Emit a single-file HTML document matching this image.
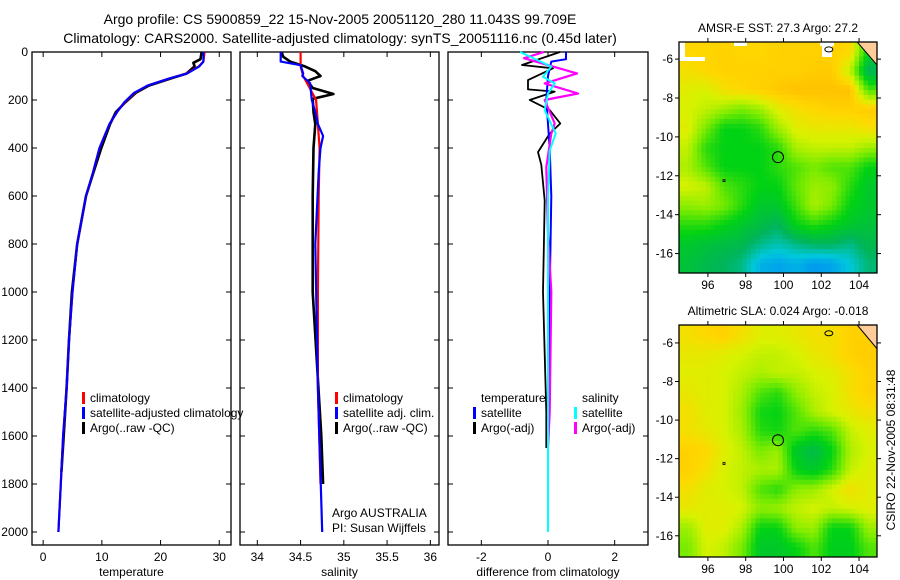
<!DOCTYPE html>
<html><head><meta charset="utf-8"><style>
html,body{margin:0;padding:0;background:#fff}
svg{display:block;font-family:"Liberation Sans",sans-serif}
</style></head><body>
<svg id="fig" width="900" height="580" viewBox="0 0 900 580">
<text x="340" y="24" font-size="14" text-anchor="middle">Argo profile: CS 5900859_22 15-Nov-2005 20051120_280 11.043S 99.709E</text>
<text x="340" y="43" font-size="14" text-anchor="middle">Climatology: CARS2000. Satellite-adjusted climatology: synTS_20051116.nc (0.45d later)</text>
<text transform="translate(895,450) rotate(-90)" font-size="12" text-anchor="middle">CSIRO 22-Nov-2005 08:31:48</text>
<g id="plots"></g>
</svg>
<script>
// ---------- data ----------
const tDepth = [0,40,60,90,110,140,170,210,250,300,400,500,600,800,1000,1200,1400,1600,1800,1950,2000];
const tClim  = [27.5,27.3,26.5,24.4,21.5,17.8,15.6,13.9,12.6,11.3,9.6,8.5,7.3,5.8,5.0,4.4,4.0,3.4,3.0,2.7,2.6];
const tSat   = [27.3,27.3,26.6,24.5,21.5,17.8,15.5,13.8,12.6,11.3,9.6,8.5,7.3,5.8,5.0,4.4,4.0,3.4,3.0,2.7,2.6];
const tArgoDepth = [0,30,45,60,90,110,140,170,210,250,300,400,500,600,800,1000,1200,1400,1600,1750];
const tArgo = [27.0,26.8,25.6,25.8,24.4,21.8,18.0,15.8,14.0,12.4,11.4,9.9,8.6,7.3,5.8,4.9,4.4,4.0,3.5,3.1];

const sDepth = [0,40,55,90,100,130,200,250,300,350,400,500,800,1400,2000];
const sSat   = [34.27,34.27,34.5,34.53,34.52,34.61,34.63,34.67,34.7,34.76,34.73,34.71,34.67,34.7,34.75];
const sClimDepth = [0,60,100,200,400,600,1000,1400,1800];
const sClim  = [34.5,34.5,34.53,34.68,34.72,34.71,34.7,34.7,34.73];
const sArgoDepth = [0,20,40,60,80,100,120,150,175,195,250,300,400,600,1000,1600,1800];
const sArgo  = [34.28,34.3,34.38,34.55,34.67,34.73,34.58,34.64,34.88,34.64,34.65,34.67,34.65,34.64,34.64,34.74,34.76];

const dTsDepth = [0,30,40,100,200,400,600,1000,1400];
const dTsat = [0.54,0.54,0.1,0.0,-0.05,0.05,0.1,0.05,0.03];
const dTaDepth = [0,54,68,117,156,165,200,242,298,340,417,470,619,1000,1500,1650];
const dTargo = [0.36,-0.78,0.15,-0.6,-0.6,0.2,-0.55,0.05,0.37,0.05,-0.3,-0.2,-0.1,-0.15,-0.05,-0.05];
const dSsDepth = [0,61,103,131,173,242,340,410,600,1000,2000];
const dSsat = [-0.84,0.1,-0.15,0.2,0.0,-0.1,0.23,0.05,0.0,0.0,0.0];
const dSaDepth = [0,26,89,131,173,200,298,340,480,760,1000,1500,1650];
const dSargo = [-0.12,-0.72,0.87,-0.1,0.9,-0.1,0.2,0.1,-0.05,0.0,0.1,0.05,0.0];

const tempTicks=[0,10,20,30], salTicks=[34,34.5,35,35.5,36], diffTicks=[-2,0,2];
const depthTicks=[0,200,400,600,800,1000,1200,1400,1600,1800,2000];
const lonTicks=[96,98,100,102,104], latTicks=[-6,-8,-10,-12,-14,-16];

const sstGrid=[
[0.88,0.88,0.9,0.88,0.88,0.9,0.9,0.9,0.9,0.88,0.5],
[0.85,0.88,0.9,0.9,0.9,0.9,0.9,0.92,0.92,0.75,0.35],
[0.8,0.78,0.85,0.88,0.9,0.93,0.95,0.95,0.95,0.95,0.6],
[0.78,0.75,0.7,0.65,0.7,0.8,0.85,0.88,0.9,0.9,0.92],
[0.8,0.65,0.5,0.5,0.55,0.7,0.8,0.82,0.82,0.82,0.85],
[0.75,0.55,0.5,0.5,0.5,0.55,0.72,0.75,0.75,0.75,0.7],
[0.72,0.6,0.5,0.5,0.5,0.55,0.6,0.65,0.6,0.6,0.5],
[0.78,0.75,0.6,0.55,0.5,0.5,0.62,0.7,0.68,0.55,0.45],
[0.68,0.7,0.65,0.55,0.45,0.45,0.58,0.72,0.65,0.5,0.45],
[0.55,0.55,0.5,0.45,0.4,0.35,0.5,0.55,0.5,0.45,0.42],
[0.45,0.42,0.4,0.38,0.3,0.25,0.3,0.35,0.35,0.3,0.38],
[0.42,0.38,0.35,0.3,0.15,0.12,0.15,0.1,0.12,0.2,0.32]];
const slaGrid=[
[0.85,0.88,0.9,0.85,0.8,0.8,0.82,0.85,0.85,0.9,0.9],
[0.82,0.82,0.8,0.78,0.75,0.75,0.78,0.82,0.85,0.9,0.92],
[0.8,0.8,0.78,0.75,0.72,0.75,0.75,0.78,0.8,0.85,0.9],
[0.82,0.8,0.78,0.72,0.6,0.55,0.68,0.75,0.78,0.85,0.9],
[0.85,0.8,0.78,0.7,0.52,0.5,0.6,0.72,0.78,0.82,0.85],
[0.85,0.82,0.78,0.72,0.55,0.52,0.6,0.55,0.6,0.75,0.8],
[0.9,0.88,0.8,0.75,0.65,0.7,0.45,0.38,0.5,0.72,0.78],
[0.9,0.85,0.78,0.75,0.72,0.72,0.5,0.45,0.55,0.75,0.8],
[0.85,0.8,0.78,0.75,0.6,0.55,0.68,0.7,0.78,0.85,0.8],
[0.82,0.8,0.8,0.78,0.68,0.7,0.75,0.78,0.75,0.78,0.8],
[0.7,0.8,0.8,0.72,0.5,0.5,0.68,0.7,0.5,0.5,0.7],
[0.65,0.78,0.75,0.65,0.45,0.45,0.5,0.6,0.48,0.48,0.6]];
const floatLon=99.709, floatLat=-11.043;

// ---------- drawing ----------
const NS="http://www.w3.org/2000/svg";
const root=document.getElementById('plots');
function el(tag,attrs,parent){const e=document.createElementNS(NS,tag);for(const k in attrs)e.setAttribute(k,attrs[k]);(parent||root).appendChild(e);return e;}
function txt(x,y,s,size,anchor,parent){const t=el('text',{x:x,y:y,'font-size':size,'text-anchor':anchor||'middle'},parent);t.textContent=s;return t;}

const TOP=52,BOT=545;
const yD=d=>TOP+d*(532-52)/2000;
function panel(name,x0,x1,xmin,xmax,xticks,xlabel,showY){
  const g=el('g',{});
  
  
  const xs=v=>x0+(v-xmin)/(xmax-xmin)*(x1-x0);
  el('rect',{x:x0,y:TOP,width:x1-x0,height:BOT-TOP,fill:'none',stroke:'#000','stroke-width':1.3},g);
  xticks.forEach(v=>{const X=xs(v);
    el('line',{x1:X,y1:BOT,x2:X,y2:BOT-5,stroke:'#000'},g);el('line',{x1:X,y1:TOP,x2:X,y2:TOP+5,stroke:'#000'},g);
    const t=txt(X,561,String(v),12,'middle',g);
    
    });
  depthTicks.forEach(d=>{const Y=yD(d);
    el('line',{x1:x0,y1:Y,x2:x0+5,y2:Y,stroke:'#000'},g);el('line',{x1:x1,y1:Y,x2:x1-5,y2:Y,stroke:'#000'},g);
    if(showY){const t=txt(x0-4,Y+4,String(d),12,'end',g);
      
      }});
  const xl=txt((x0+x1)/2,576,xlabel,12,'middle',g);
  
  
  return {g,xs};
}
function line(p,vals,depths,color,w,name,dash){
  const pts=vals.map((v,i)=>p.xs(v).toFixed(1)+','+yD(depths[i]).toFixed(1)).join(' ');
  const l=el('polyline',{points:pts,fill:'none',stroke:color,'stroke-width':w,'stroke-linejoin':'round'},p.g);
  if(dash)l.setAttribute('stroke-dasharray',dash);
  
  
}
function legend(p,x,y,items){
  items.forEach((it,i)=>{const Y=y+i*15;
    if(it[1]){const r=el('rect',{x:x,y:Y-10,width:3,height:12,fill:it[1]},p.g);
      
      }
    const t=txt(x+8,Y,it[0],12,'start',p.g);
    
    });
}
const p1=panel('temperature-panel',32,231,-1.9,32,tempTicks,'temperature',true);
line(p1,tArgo,tArgoDepth,'#000',2.6,'temperature-argo-line');
line(p1,tClim,tDepth,'#f00',2.2,'temperature-climatology-line');
line(p1,tSat,tDepth,'#00f',2.2,'temperature-satellite-line');
legend(p1,82,402,[['climatology','#f00'],['satellite-adjusted climatology','#00f'],['Argo(..raw -QC)','#000']]);
const p2=panel('salinity-panel',240,439,33.8,36.1,salTicks,'salinity',false);
line(p2,sArgo,sArgoDepth,'#000',2.6,'salinity-argo-line');
line(p2,sClim,sClimDepth,'#f00',2.2,'salinity-climatology-line');
line(p2,sSat,sDepth,'#00f',2.2,'salinity-satellite-line');
legend(p2,335,402,[['climatology','#f00'],['satellite adj. clim.','#00f'],['Argo(..raw -QC)','#000']]);
legend(p2,324,517,[['Argo AUSTRALIA',null],['PI: Susan Wijffels',null]]);
const p3=panel('difference-panel',448,648,-3,3,diffTicks,'difference from climatology',false);
line(p3,dTargo,dTaDepth,'#000',1.8,'temp-diff-argo-line');
line(p3,dTsat,dTsDepth,'#00f',2,'temp-diff-satellite-line');
line(p3,dSargo,dSaDepth,'#f0f',2.2,'sal-diff-argo-line');
line(p3,dSsat,dSsDepth,'#0ff',2,'sal-diff-satellite-line');
legend(p3,473,402,[['temperature',null],['satellite','#00f'],['Argo(-adj)','#000']]);
legend(p3,574,402,[['salinity',null],['satellite','#0ff'],['Argo(-adj)','#f0f']]);

// ---------- maps ----------
const stops=[[0,[0,110,255]],[0.2,[0,200,220]],[0.35,[0,180,90]],[0.5,[0,210,20]],[0.65,[120,235,0]],[0.78,[215,242,0]],[0.88,[255,215,0]],[1,[255,180,0]]];
function cmap(v){for(let i=1;i<stops.length;i++){if(v<=stops[i][0]){const a=stops[i-1],b=stops[i],f=(v-a[0])/(b[0]-a[0]);
  return 'rgb('+a[1].map((c,k)=>Math.round(c+(b[1][k]-c)*f)).join(',')+')';}}return 'rgb(255,180,0)';}
function sample(grid,r,c){ // bilinear sample at fractional cell coords
  const nr=grid.length,nc=grid[0].length;
  const rr=Math.min(Math.max(r-0.5,0),nr-1),cc=Math.min(Math.max(c-0.5,0),nc-1);
  const r0=Math.floor(rr),c0=Math.floor(cc),r1=Math.min(r0+1,nr-1),c1=Math.min(c0+1,nc-1);
  const fr=rr-r0,fc=cc-c0;
  return grid[r0][c0]*(1-fr)*(1-fc)+grid[r0][c1]*(1-fr)*fc+grid[r1][c0]*fr*(1-fc)+grid[r1][c1]*fr*fc;
}
function map(name,title,grid,x0,x1,y0,y1,latTop,latBot,missing){
  const g=el('g',{});
  
  
  const lonMin=94.47,lonMax=104.95;
  const xs=v=>x0+(v-lonMin)/(lonMax-lonMin)*(x1-x0);
  const ys=v=>y0+(latTop-v)/(latTop-latBot)*(y1-y0);
  const nr=grid.length,nc=grid[0].length,S=4,cw=(x1-x0)/nc/S,ch=(y1-y0)/nr/S;
  for(let r=0;r<nr*S;r++)for(let c=0;c<nc*S;c++){
    const v=sample(grid,(r+0.5)/S,(c+0.5)/S);
    const cell=el('rect',{x:(x0+c*cw).toFixed(2),y:(y0+r*ch).toFixed(2),width:(cw+0.5).toFixed(2),height:(ch+0.5).toFixed(2),fill:cmap(v)},g);
    
    
  }
  (missing||[]).forEach(m=>el('rect',{x:m[0],y:m[1],width:m[2],height:m[3],fill:'#fff'},g));
  el('polygon',{points:`${xs(103.9)},${y0} ${x1},${y0} ${x1},${ys(-6.3)}`,fill:'#fc9','stroke':'#000','stroke-width':1},g);
  el('ellipse',{cx:xs(102.4),cy:ys(-5.5),rx:4,ry:2.5,fill:'none',stroke:'#000'},g);
  el('rect',{x:xs(96.8),y:ys(-12.2),width:2,height:2,fill:'none',stroke:'#000','stroke-width':0.8},g);
  const c=el('circle',{cx:xs(floatLon),cy:ys(floatLat),r:5.5,fill:'none',stroke:'#000','stroke-width':1},g);
  
  
  el('rect',{x:x0,y:y0,width:x1-x0,height:y1-y0,fill:'none',stroke:'#000','stroke-width':1.3},g);
  lonTicks.forEach(v=>{const X=xs(v);el('line',{x1:X,y1:y1,x2:X,y2:y1+4,stroke:'#000'},g);el('line',{x1:X,y1:y0,x2:X,y2:y0-4,stroke:'#000'},g);
    const t=txt(X,y1+16,String(v),12,'middle',g);
    
    });
  latTicks.forEach(v=>{const Y=ys(v);el('line',{x1:x0,y1:Y,x2:x0-4,y2:Y,stroke:'#000'},g);el('line',{x1:x1,y1:Y,x2:x1+4,y2:Y,stroke:'#000'},g);
    const t=txt(x0-6,Y+4,String(v),12,'end',g);
    
    });
  const t=txt((x0+x1)/2,y0-10,title,12,'middle',g);
  
  
}
map('sst-map','AMSR-E SST: 27.3 Argo: 27.2',sstGrid,679,877,42,273,-5.12,-17.0,[[679,42,6,18],[679,57,26,4],[734,42,13,4],[820,42,14,4],[822,42,10,15]]);
map('sla-map','Altimetric SLA: 0.024 Argo: -0.018',slaGrid,679,877,325,557,-5.07,-17.1,[]);
</script>
</body></html>
